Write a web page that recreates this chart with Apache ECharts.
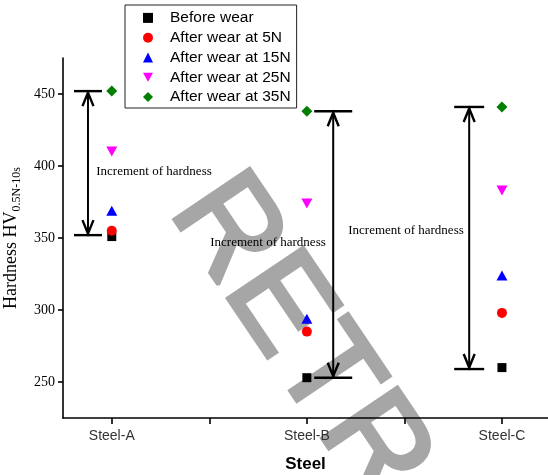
<!DOCTYPE html>
<html>
<head>
<meta charset="utf-8">
<script src="https://cdn.jsdelivr.net/npm/echarts@6/dist/echarts.min.js"></script>
<style>html,body{margin:0;padding:0;background:#fff;}#c{width:548px;height:475px;}</style>
</head>
<body>
<div id="c"></div>
<script>
// ---- data ----
const categories = ['Steel-A', 'Steel-B', 'Steel-C'];
const seriesNames = ['Before wear', 'After wear at 5N', 'After wear at 15N', 'After wear at 25N', 'After wear at 35N'];
const beforeWear = [351, 253, 260];
const wear5N = [355, 285, 298];
const wear15N = [369, 294, 324];
const wear25N = [410, 374, 383];
const wear35N = [452, 438, 441];
const yTicks = [250, 300, 350, 400, 450];
const xTicks = [1, 1.5, 2, 2.5, 3];
// hardness increment arrows (x position in category units, low, high)
const arrowX = [0.878, 2.135, 2.832];
const arrowLow = [352, 253, 259];
const arrowHigh = [452, 438, 441];
const annotationText = 'Increment of hardness';

const xPos = categories.map((c, i) => i + 1);
const valueSets = [beforeWear, wear5N, wear15N, wear25N, wear35N];
const symbols = ['rect', 'circle', 'triangle', 'path://M0,0 L10,0 L5,9 Z', 'diamond'];
const colors = ['#000000', '#ff0000', '#0000ff', '#ff00ff', '#007f00'];
const sizes = [9, 10, [11, 10], [11, 10], 11];

const chart = echarts.init(document.getElementById('c'), null, {renderer: 'canvas'});

const scatterSeries = seriesNames.map((name, k) => ({
  name: name,
  type: 'scatter',
  symbol: symbols[k],
  symbolSize: sizes[k],
  itemStyle: {color: colors[k], opacity: 1},
  z: 5,
  data: xPos.map((x, i) => [x, valueSets[k][i]])
}));

const barHalf = [14, 19, 15];

const arrowSeries = {
  type: 'custom',
  name: 'arrows',
  z: 4,
  silent: true,
  encode: {x: 0, y: [1, 2]},
  data: arrowX.map((x, i) => [x, arrowLow[i], arrowHigh[i]]),
  renderItem: function (params, api) {
    const x = api.value(0), lo = api.value(1), hi = api.value(2);
    const pLo = api.coord([x, lo]);
    const pHi = api.coord([x, hi]);
    const cx = pLo[0];
    const hw = barHalf[params.dataIndex];
    const ah = 15, aw = 5.5;
    const st = {stroke: '#000', lineWidth: 2.4, fill: null};
    return {
      type: 'group',
      children: [
        {type: 'line', shape: {x1: cx - hw, y1: pHi[1], x2: cx + hw, y2: pHi[1]}, style: st},
        {type: 'line', shape: {x1: cx - hw, y1: pLo[1], x2: cx + hw, y2: pLo[1]}, style: st},
        {type: 'line', shape: {x1: cx, y1: pHi[1] + 1, x2: cx, y2: pLo[1] - 1}, style: {stroke: '#000', lineWidth: 2}},
        {type: 'polyline', shape: {points: [[cx - aw, pHi[1] + ah], [cx, pHi[1] + 1.5], [cx + aw, pHi[1] + ah]]}, style: st},
        {type: 'polyline', shape: {points: [[cx - aw, pLo[1] - ah], [cx, pLo[1] - 1.5], [cx + aw, pLo[1] - ah]]}, style: st}
      ]
    };
  }
};

const annFont = '13px "Liberation Serif", "Times New Roman", serif';

chart.setOption({
  animation: false,
  backgroundColor: '#fff',
  grid: {left: 63, right: 0, top: 58, bottom: 57, containLabel: false, outerBoundsMode: 'none'},
  legend: {
    data: seriesNames,
    orient: 'vertical',
    left: 125,
    top: 5,
    itemWidth: 10,
    itemHeight: 10,
    itemGap: 0,
    padding: [3, 6, 1, 18],
    borderColor: '#222',
    borderWidth: 1,
    backgroundColor: '#fff',
    textStyle: {
      color: '#000',
      fontFamily: '"Liberation Sans", Arial, sans-serif',
      fontSize: 15.5,
      lineHeight: 19.8,
      padding: [0, 0, 0, 12]
    }
  },
  xAxis: {
    type: 'value',
    min: 0.75,
    max: 3.236,
    name: 'Steel',
    nameLocation: 'middle',
    nameGap: 38,
    nameTextStyle: {fontFamily: '"Liberation Sans", Arial, sans-serif', fontSize: 17, fontWeight: 'bold', color: '#000'},
    axisLine: {show: true, lineStyle: {color: '#000', width: 1.6}},
    axisTick: {show: true, inside: false, length: 6, lineStyle: {color: '#000', width: 1.6}, customValues: xTicks},
    axisLabel: {
      customValues: xPos,
      margin: 11,
      fontFamily: '"Liberation Sans", Arial, sans-serif',
      fontSize: 14,
      color: '#333',
      formatter: function (v) { return categories[Math.round(v) - 1] || ''; }
    },
    splitLine: {show: false}
  },
  yAxis: {
    type: 'value',
    min: 225,
    max: 475,
    name: '{a|Hardness HV}{b|0.5N-10s}',
    nameLocation: 'middle',
    nameGap: 37,
    nameRotate: 90,
    nameTextStyle: {
      rich: {
        a: {fontFamily: '"Liberation Serif", "Times New Roman", serif', fontSize: 18, color: '#000', verticalAlign: 'bottom', lineHeight: 20},
        b: {fontFamily: '"Liberation Serif", "Times New Roman", serif', fontSize: 12, color: '#000', verticalAlign: 'bottom', lineHeight: 16, padding: [0, 0, -3, 0]}
      }
    },
    axisLine: {show: true, lineStyle: {color: '#000', width: 1.6}},
    axisTick: {show: true, inside: false, length: 5, lineStyle: {color: '#000', width: 1.6}, customValues: yTicks},
    axisLabel: {
      customValues: yTicks,
      margin: 8,
      fontFamily: '"Liberation Serif", "Times New Roman", serif',
      fontSize: 14,
      color: '#000'
    },
    splitLine: {show: false}
  },
  graphic: [
    {type: 'text', z: -10, zlevel: 0, silent: true, x: 299, y: 339, rotation: -56 * Math.PI / 180,
      style: {text: 'RETR', font: '132px "Liberation Sans", Arial, sans-serif', fill: '#a6a6a6', stroke: '#a6a6a6', lineWidth: 4, align: 'center', verticalAlign: 'middle'}},
    {type: 'text', z: 10, silent: true, x: 154, y: 172, style: {text: annotationText, font: annFont, fill: '#000', align: 'center', verticalAlign: 'middle'}},
    {type: 'text', z: 10, silent: true, x: 268, y: 243, style: {text: annotationText, font: annFont, fill: '#000', align: 'center', verticalAlign: 'middle'}},
    {type: 'text', z: 10, silent: true, x: 406, y: 231, style: {text: annotationText, font: annFont, fill: '#000', align: 'center', verticalAlign: 'middle'}}
  ],
  series: scatterSeries.concat([arrowSeries])
});
</script>
</body>
</html>
